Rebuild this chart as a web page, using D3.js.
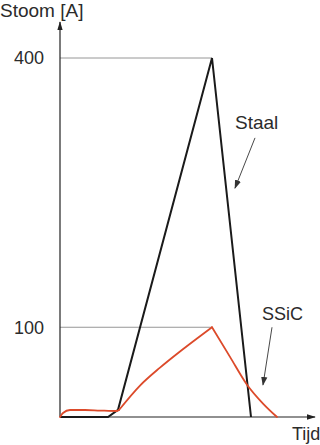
<!DOCTYPE html>
<!-- stroom tegen tijd: staal vs SSiC -->
<html>
  <head>
    <script type="text/javascript" src="https://cdn.jsdelivr.net/npm/d3@7/dist/d3.min.js"></script>
    <style>
      body { margin: 0; background: #fff; }
      text {
        font-family: "Liberation Sans", Arial, sans-serif;
        fill: #2b2b2b;
      }
    </style>
  </head>
  <body>
    <div id="chart"></div>
  </body>
  <script>
  //data
  var staalTijd = [0, 19.2, 23.2, 60.8, 76.4];
  var staalStroom = [0, 0, 8, 400, 0];

  var ssicTijd = [0, 1.2, 4, 10, 16, 22.8, 23.6, 32, 40, 48, 54.8, 60.8, 68, 74.8, 81.2, 86.8];
  var ssicStroom = [0, 4.5, 7.8, 7.8, 7.2, 6.7, 7.8, 35, 55, 73, 87.5, 100, 67, 36, 15, 0];

  var yTicks = [100, 400];
  var peakTijd = 60.8;

  //labels with arrows (data units)
  var labels = ['Staal', 'SSiC'];
  var labelTijd = [70, 80.8];
  var labelStroom = [321, 108];
  var arrowFrom = [[78, 311], [84.8, 100]];
  var arrowTo = [[70, 255], [81.2, 35.7]];

  (function (d3) {
    'use strict';
    var width = 320;
    var height = 445;

    var x = d3.scaleLinear().domain([0, 100]).range([60, 310]);
    var y = d3.scaleLinear().domain([0, 400]).range([417, 58]);

    var svg = d3.select('#chart')
      .append('svg')
      .attr('width', width)
      .attr('height', height);

    var defs = svg.append('defs');
    defs.append('marker')
      .attr('id', 'head')
      .attr('viewBox', '0 0 10 10')
      .attr('refX', 9).attr('refY', 5)
      .attr('markerWidth', 9).attr('markerHeight', 9)
      .attr('markerUnits', 'userSpaceOnUse')
      .attr('orient', 'auto')
      .append('path')
      .attr('d', 'M0,1.5 L10,5 L0,8.5 Z')
      .attr('fill', '#333');
    defs.append('marker')
      .attr('id', 'axhead')
      .attr('viewBox', '0 0 10 10')
      .attr('refX', 9).attr('refY', 5)
      .attr('markerWidth', 9).attr('markerHeight', 9)
      .attr('markerUnits', 'userSpaceOnUse')
      .attr('orient', 'auto')
      .append('path')
      .attr('d', 'M0,2 L10,5 L0,8 Z')
      .attr('fill', '#222');

    //reference lines to the peaks
    svg.selectAll('.grid')
      .data(yTicks)
      .enter()
      .append('line')
      .attr('class', 'grid')
      .attr('x1', x(0)).attr('x2', x(peakTijd))
      .attr('y1', function (d) { return y(d); })
      .attr('y2', function (d) { return y(d); })
      .attr('stroke', '#8a8a8a')
      .attr('stroke-width', 0.9);

    svg.selectAll('.tick')
      .data(yTicks)
      .enter()
      .append('text')
      .attr('class', 'tick')
      .attr('x', 14)
      .attr('y', function (d) { return y(d); })
      .attr('dy', '0.36em')
      .style('font-size', '18px')
      .text(function (d) { return d; });

    //axes
    svg.append('line')
      .attr('x1', x(0)).attr('y1', y(0))
      .attr('x2', x(102)).attr('y2', y(0))
      .attr('stroke', '#222').attr('stroke-width', 1.2)
      .attr('marker-end', 'url(#axhead)');
    svg.append('line')
      .attr('x1', x(0)).attr('y1', y(0))
      .attr('x2', x(0)).attr('y2', y(440))
      .attr('stroke', '#222').attr('stroke-width', 1.2)
      .attr('marker-end', 'url(#axhead)');

    svg.append('text')
      .attr('x', 0).attr('y', 17)
      .style('font-size', '19px')
      .text('Stoom [A]');
    svg.append('text')
      .attr('x', 292).attr('y', 440)
      .style('font-size', '18px')
      .text('Tijd');

    //series
    var line = d3.line()
      .x(function (d) { return x(d[0]); })
      .y(function (d) { return y(d[1]); });

    svg.append('path')
      .datum(d3.zip(staalTijd, staalStroom))
      .attr('d', line)
      .attr('fill', 'none')
      .attr('stroke', '#1a1a1a')
      .attr('stroke-width', 2)
      .attr('stroke-linejoin', 'miter');

    // SSiC smooth, but keep the peak sharp: rise and fall drawn apart
    var smooth = d3.line()
      .curve(d3.curveMonotoneX)
      .x(function (d) { return x(d[0]); })
      .y(function (d) { return y(d[1]); });
    var ssic = d3.zip(ssicTijd, ssicStroom);
    var pk = ssicStroom.indexOf(d3.max(ssicStroom));
    var kink = 6;
    [ssic.slice(0, kink + 1), ssic.slice(kink, pk + 1), ssic.slice(pk)].forEach(function (part) {
      svg.append('path')
        .datum(part)
        .attr('d', smooth)
        .attr('fill', 'none')
        .attr('stroke', '#dc4a2a')
        .attr('stroke-width', 1.8)
        .attr('stroke-linecap', 'round');
    });

    //labels + arrows
    svg.selectAll('.lbl')
      .data(labels)
      .enter()
      .append('text')
      .attr('class', 'lbl')
      .attr('x', function (d, i) { return x(labelTijd[i]); })
      .attr('y', function (d, i) { return y(labelStroom[i]); })
      .style('font-size', function (d, i) { return i === 0 ? '19px' : '18px'; })
      .text(function (d) { return d; });

    svg.selectAll('.arrow')
      .data(labels)
      .enter()
      .append('line')
      .attr('class', 'arrow')
      .attr('x1', function (d, i) { return x(arrowFrom[i][0]); })
      .attr('y1', function (d, i) { return y(arrowFrom[i][1]); })
      .attr('x2', function (d, i) { return x(arrowTo[i][0]); })
      .attr('y2', function (d, i) { return y(arrowTo[i][1]); })
      .attr('stroke', '#333')
      .attr('stroke-width', 0.9)
      .attr('marker-end', 'url(#head)');
  })(window.d3);
  </script>
</html>
